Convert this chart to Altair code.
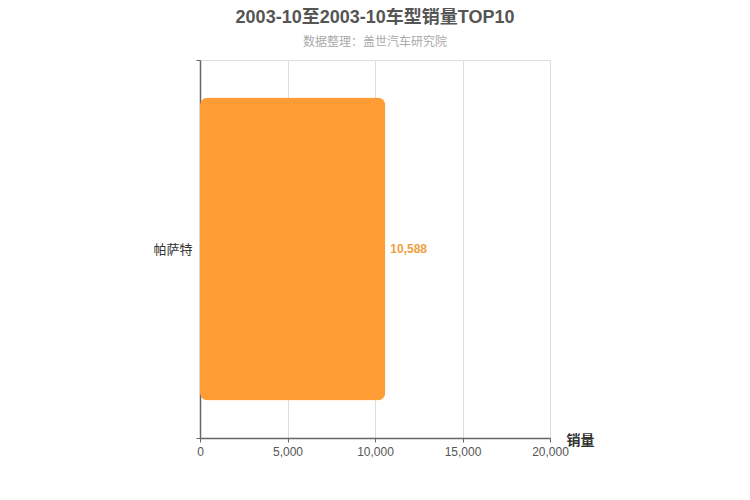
import altair as alt
import pandas as pd

categories = ["帕萨特"]
sales = [10588]

df = pd.DataFrame({"model": categories, "sales": sales})

FONT = "Liberation Sans, Noto Sans CJK SC"

base = alt.Chart(df)

bars = base.mark_bar(size=303, cornerRadius=8, color="#FF9C33").encode(
    x=alt.X(
        "sales:Q",
        scale=alt.Scale(domain=[0, 20000], nice=False),
        axis=alt.Axis(
            values=[0, 5000, 10000, 15000, 20000],
            format=",d",
            title="销量",
            titleX=380,
            titleY=2,
            titleAlign="center",
            titleBaseline="middle",
            titleFontSize=14,
            titleFontWeight="bold",
            titleColor="#333333",
            titleFont=FONT,
            labelFont=FONT,
            labelFontSize=12,
            labelColor="#555555",
            labelPadding=4,
            labelFlush=False,
            domainColor="#666666",
            domainWidth=1.5,
            tickColor="#666666",
            tickSize=4,
            grid=True,
            gridColor="#dddddd",
        ),
    ),
    y=alt.Y(
        "model:N",
        scale=alt.Scale(paddingInner=0, paddingOuter=0),
        axis=alt.Axis(
            title=None,
            tickBand="extent",
            grid=False,
            labelFont=FONT,
            labelFontSize=13,
            labelColor="#333333",
            labelPadding=4,
            domainColor="#666666",
            domainWidth=1.5,
            tickColor="#666666",
            tickSize=4,
        ),
    ),
)

labels = base.mark_text(
    align="left", baseline="middle", dx=5, color="#F0A040",
    fontWeight="bold", fontSize=12, font=FONT
).encode(
    x="sales:Q",
    y="model:N",
    text=alt.Text("sales:Q", format=",d"),
)

chart = (
    alt.layer(bars, labels)
    .properties(
        width=350,
        height=378,
        title=alt.TitleParams(
            text="2003-10至2003-10车型销量TOP10",
            subtitle="数据整理：盖世汽车研究院",
            anchor="middle",
            font=FONT,
            fontSize=18,
            fontWeight="bold",
            color="#555555",
            subtitleFont=FONT,
            subtitleFontSize=12,
            subtitleColor="#aaaaaa",
            subtitlePadding=10,
            offset=6,
        ),
        autosize=alt.AutoSizeParams(type="none"),
        padding={"left": 192, "top": 52, "right": 192, "bottom": 40},
    )
    .configure_view(stroke="#dddddd", strokeWidth=1)
    .configure(background="white")
)

chart.save("out.html", embed_options={"renderer": "svg", "actions": False})
